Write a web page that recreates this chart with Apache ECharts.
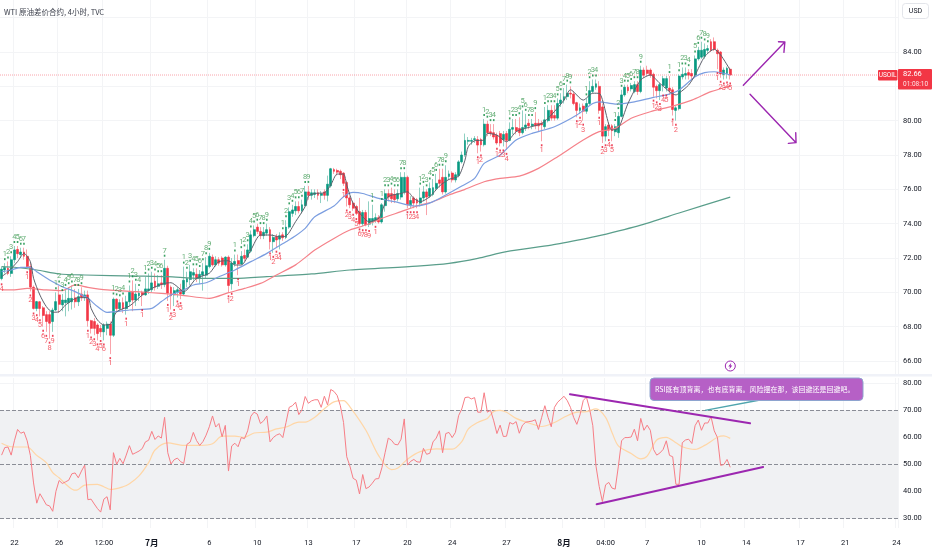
<!DOCTYPE html>
<html><head><meta charset="utf-8">
<style>html,body{margin:0;padding:0;background:#fff}#c{width:932px;height:550px}</style>
<script src="https://cdn.jsdelivr.net/npm/echarts@6/dist/echarts.min.js"></script>
</head><body><div id="c"></div>
<script>
const SLOTS = 281;
const tickBars = [4,18,32,47,65,80,96,111,127,141,158,176,189,202,219,233,250,264,280];
const tickLabels = ['22','26','12:00','7月','6','10','13','17','20','24','27','8月','04:00','7','10','14','17','21','24'];
const priceTicks = [66,68,70,72,74,76,78,80,82,84,86];
const priceLabels = [66,68,70,72,74,76,78,80,84];
const rsiTicks = [30,40,50,60,70,80];
const rsiLevels = [70,50,30];
const lastPrice = 82.66;
// open, close, low, high
const candles = [
[70.8,71.35,70.7,71.5],[71.3,71.45,71.1,71.7],[71.4,71.1,71.0,71.8],[71.1,71.9,70.9,72.1],[71.9,72.47,71.7,72.7],
[72.5,72.25,72.0,72.7],[72.2,72.35,72.0,72.6],[72.35,72.1,71.9,72.6],[72.1,71.5,71.4,72.5],[71.5,70.3,70.05,71.7],
[70.3,69.06,69.0,70.4],[69.06,69.46,68.9,69.5],[69.45,69.06,68.6,69.5],[69.1,68.65,68.0,69.2],[68.7,68.3,67.7,68.9],
[68.7,68.2,67.3,68.9],[68.3,68.97,67.7,69.1],[68.97,69.46,68.9,70.0],[69.85,69.3,68.8,70.4],[69.27,69.55,68.9,69.9],
[69.4,69.55,68.6,70.2],[69.4,69.65,68.9,70.3],[69.45,69.65,69,70.4],[69.68,69.45,69.1,70.2],[69.45,69.75,69.2,70.2],
[69.9,69.7,69.5,70.3],[69.7,69.85,69.5,70.1],[69.85,68.35,68,70.1],[68.35,67.9,67.6,68.4],[68.3,67.9,67.5,68.5],
[68.1,67.6,67.2,68.2],[67.9,67.7,67.4,68.1],[67.7,68.1,67.2,68.2],[67.9,68.15,67.5,68.3],[68.15,67.5,66.4,68.3],
[67.5,69.6,67.4,69.7],[69.6,69.05,68.9,69.65],[69.05,69.4,68.9,69.6],[69.4,69.05,68.8,69.7],[69.05,69.45,68.7,69.8],
[69.45,70,69.2,70.4],[70,69.55,68.9,70.7],[69.55,69.9,69.2,70.5],[69.8,69.95,69.5,70.2],[70,69.85,69.2,70.1],
[69.85,70.2,69.8,70.9],[70.1,70.2,69.9,71.1],[70.15,70.55,70,71.2],[70.65,70.3,70.1,71.1],[70.35,70.5,70.2,71],
[70.55,70.45,70.2,71],[70.45,71.4,70.3,71.9],[71.4,69.95,69.5,71.55],[70.3,69.8,69.0,70.4],[69.85,70.1,69.2,70.3],
[70,70.15,69.7,70.3],[70.15,69.9,69.6,70.5],[69.9,70.7,69.8,71.5],[70.6,70.8,70.3,71.2],[70.75,71.2,70.4,71.6],
[71,71.15,70.7,71.4],[71.05,70.8,70.6,71.4],[70.8,71.05,70.5,71.3],[71,71.2,70.1,71.7],[71,71.55,70.8,72.05],
[71.5,72.1,71.4,72.3],[72.05,71.6,71.5,72.2],[71.6,71.9,71.5,72.1],[71.9,71.7,71.55,72.05],[72,71.6,71.5,72.1],
[71.6,72.05,71.5,72.1],[72.05,70.4,70,72.15],[70.5,71.7,70.15,72],[71.65,71.8,71.5,72.2],[71.85,71.65,71,72.2],
[71.65,72.1,71.6,72.4],[72.15,71.98,71.8,72.5],[72.05,72.47,72,72.8],[72.4,73.35,72.3,73.6],[73.3,73.65,73.2,73.9],
[73.8,73.55,73.4,74],[73.55,73.3,73.1,73.8],[73.3,73.5,73.1,73.8],[73.45,73.65,73.3,74],[73.65,72.95,72.5,73.8],
[72.95,73.2,72.3,73.4],[73.25,73.05,72.6,73.4],[73.1,73.3,72.5,73.5],[73.35,73.18,73,73.5],[73.2,73.8,73.1,74.2],
[73.8,74.7,73.7,74.95],[74.6,74.8,74.4,75.1],[74.75,75,74.5,75.3],[75,74.75,74.6,75.3],[74.75,75.1,74.6,75.4],
[75.05,75.85,75,76.2],[75.85,75.65,75.4,76.2],[75.65,75.8,75.4,76],[75.7,75.8,75.5,76],[75.8,75.65,75.4,76],
[75.65,75.75,75.2,75.9],[75.85,75.65,75.4,76],[75.65,76.3,75.3,76.8],[76.2,77.2,76.1,77.25],[77.15,77.05,76.9,77.25],
[77.1,77,76.8,77.2],[77.05,76.85,76.6,77.15],[76.95,76.35,76.2,77],[76.4,75.5,75,76.5],[75.5,75.1,74.9,75.6],
[75.2,74.9,74.75,75.3],[75,74.6,74.5,75.1],[74.7,74,73.9,75.5],[74,74.65,73.85,74.8],[74.65,73.95,73.85,74.8],
[73.97,74.3,73.8,75.3],[74.1,74.3,73.9,75.1],[74.2,74.35,74.05,74.6],[74.35,74.1,74,74.5],[74.1,75.1,74,75.2],
[75.05,75.75,74.7,76],[75.75,75.55,75.3,76],[75.75,75.45,75.2,76.1],[75.7,75.4,75.2,76],[75.45,75.75,75.3,76],
[75.55,76.7,75.4,77],[75.85,76.7,75.7,77],[76.7,75.1,74.9,76.8],[75.1,75.35,74.9,75.6],[75.5,75.2,74.9,75.6],
[75.4,75.2,74.9,75.5],[75.2,75.5,75,76.1],[75.5,75.85,75.3,76.2],[75.85,75.55,74.5,76],[75.6,76.05,75.5,76.4],
[75.7,76.1,75.6,76.6],[76.05,76.35,75.9,76.9],[76.55,76.35,76.1,77.2],[76.7,75.85,75.7,77.2],[75.85,76.7,75.75,77.4],
[76.75,76.9,76.6,77.1],[76.95,76.55,76.4,77.05],[76.55,76.85,76.4,77],[76.8,77.6,76.7,77.7],[77.6,78,77.5,78.2],
[78,78.85,77.9,79.25],[78.8,78.85,78.6,79.05],[78.8,78.85,78.6,79],[78.9,78.95,78.7,79.1],[78.9,78.58,78.1,79.1],
[78.9,78.6,78.2,79],[78.6,79.8,78.5,80.1],[79.8,79.3,79.1,80],[79.35,79.25,79.1,79.8],[79.3,79.05,78.9,79.8],
[79.15,78.7,78.6,79.3],[79.25,78.7,78.5,79.4],[78.9,79.2,78.5,79.4],[79.25,78.85,78.3,79.4],[78.85,79.5,78.8,79.9],
[79.5,79.6,79.2,80.1],[79.6,79.4,79.2,80.1],[79.55,79.3,79.1,80.2],[79.3,79.6,79.2,80.6],[79.6,79.75,79.4,80.4],
[79.85,79.7,79.5,80.1],[79.7,79.8,79.5,80.1],[79.85,79.7,79.5,80.5],[79.85,79.7,79.4,80.1],[79.85,79.75,78.8,80],
[79.65,80.05,79.5,80.8],[80,80.6,79.9,80.9],[80.6,80.15,80,80.9],[80.3,80.15,80,80.9],[80.15,81,80.05,81.3],
[81,81.2,80.8,81.6],[81.2,81.4,81,81.9],[81.4,81.6,81.2,82.1],[81.6,81.55,81.3,82],[81.55,81,80.9,81.7],
[81.05,80.6,80.2,81.1],[80.6,80.75,80.4,81],[80.85,80.55,80,81],[80.55,81,80.4,81.3],[81,81.75,80.9,82.3],
[81.7,82,81.6,82.4],[81.95,82.15,81.8,82.4],[82,80.6,80.4,82.3],[80.8,79.1,78.7,81],[79.1,79.65,78.8,79.8],
[79.75,79.45,79.1,79.9],[79.7,79.42,78.8,79.8],[79.35,79.65,79.1,79.8],[79.3,80.25,79,80.5],[80.25,81.5,80.2,81.8],
[81.5,81.95,81.4,82.1],[81.95,81.75,81.6,82.1],[81.85,82.05,81.7,82.2],[81.7,82.1,81.6,82.3],[82.1,81.7,81.5,82.3],
[81.7,82.95,81.6,83.2],[82.95,82.65,82.5,83.1],[82.95,82.75,82.6,83.2],[82.95,82.65,82.5,83.05],[82.7,81.95,81.4,82.8],
[82,81.75,81.3,82.1],[81.75,82.1,81.2,82.2],[82.05,82.45,81.7,82.6],[81.9,82.45,81.7,82.6],[81.9,81.75,81.5,82.6],
[81.8,80.65,80.3,81.95],[80.6,80.75,80,80.85],[80.7,82.6,80.6,82.7],[82.55,82.7,82.4,83.1],[82.65,82.75,82.4,83.1],
[82.8,82.65,82.4,83.0],[82.75,82.6,82.4,83],[82.65,83.6,82.55,83.8],[83.6,84.1,83.5,84.3],[83.7,84.1,83.6,84.6],
[83.75,84.15,83.6,84.5],[84.1,84.2,83.9,84.4],[84.6,84.1,84,84.75],[84.6,84.15,84.05,84.85],[84.1,83.9,83,84.2],
[84,82.72,82.5,84.05],[82.7,82.95,82.4,83.1],[82.75,83.05,82.45,83.15],[83,82.66,82.4,83.1]
];
// TD-count digits above bars: [bar, digit]
const tdUp = [[1,1],[2,2],[3,3],[4,4],[5,5],[6,6],[7,7],[17,1],[18,2],[19,3],[20,4],[21,5],[22,6],[23,7],[24,8],[25,9],
[35,1],[36,2],[37,3],[38,4],[40,1],[41,2],[42,3],[43,4],[45,1],[46,2],[47,3],[48,4],[49,5],[50,6],[51,7],
[57,1],[58,2],[59,3],[60,4],[61,5],[62,6],[63,7],[64,8],[65,9],[73,1],[75,1],[76,2],[77,3],[78,4],[79,5],[80,6],[81,7],[82,8],[83,9],
[88,1],[89,2],[90,3],[91,4],[92,5],[93,6],[94,7],[95,8],[96,9],[116,1],[119,1],[120,2],[121,3],[122,4],[123,5],[124,6],[125,7],[126,8],
[131,1],[132,2],[133,3],[134,4],[135,5],[136,6],[137,7],[138,8],[139,9],[151,1],[152,2],[153,3],[154,4],
[159,1],[160,2],[161,3],[162,4],[163,5],[164,6],[165,7],[166,8],[167,9],[170,1],[171,2],[172,3],[173,4],[174,5],[175,6],[176,7],[177,8],[178,9],
[183,1],[184,2],[185,3],[186,4],[192,1],[193,2],[194,3],[195,4],[196,5],[197,6],[198,7],[199,8],[200,9],[209,1],
[212,1],[213,2],[214,3],[215,4],[217,5],[218,6],[219,7],[220,8],[221,9]];
// TD-count digits below bars: [bar, digit]
const tdDown = [[0,4],[8,1],[9,2],[10,3],[11,4],[12,5],[13,6],[14,7],[15,8],[16,9],[27,1],[28,2],[29,3],[30,4],[31,5],[32,6],[34,1],[39,1],[44,1],
[52,1],[53,2],[54,3],[55,4],[56,5],[71,1],[72,2],[74,1],[84,1],[85,2],[86,3],[87,4],[107,1],[108,2],[109,3],[110,4],[111,5],[112,6],[113,7],[114,8],[115,9],[117,1],
[127,1],[128,2],[129,3],[130,4],[149,1],[150,2],[155,1],[156,2],[157,3],[158,4],[169,1],[180,1],[181,2],[182,3],[187,1],[188,2],[189,3],[190,4],[191,5],
[204,1],[205,2],[206,3],[207,4],[208,5],[210,1],[211,2],[224,1],[225,2],[226,3],[227,4],[228,5]];
const maBlack = [[0,70.91],[2,71.2],[5,71.79],[7,72.27],[9,71.79],[10,70.82],[12,69.84],[14,69.17],[16,68.84],[18,68.87],[20,69.26],[24,69.69],[27,69.69],[28,69.07],[30,68.39],[32,68.1],[34,68.14],[36,68.87],[40,69.2],[44,69.84],[47,70.23],[51,70.52],[53,70.56],[55,70.33],[57,70.04],[58,70.14],[61,70.82],[65,71.11],[68,71.79],[71,71.84],[73,71.59],[75,71.59],[78,72.47],[81,73.34],[84,73.34],[87,73.24],[89,73.28],[92,74.12],[95,75.0],[96,75.6],[98,75.76],[101,75.8],[103,76.25],[105,76.89],[107,76.89],[108,76.25],[110,75.18],[113,74.4],[115,74.11],[118,74.31],[119,74.7],[121,75.57],[125,75.76],[127,75.86],[129,75.47],[131,75.28],[134,75.57],[137,76.19],[140,76.58],[143,76.77],[145,77.7],[146,78.48],[148,78.83],[151,78.87],[152,79.26],[155,79.16],[158,78.77],[161,79.36],[165,79.61],[169,79.84],[172,80.33],[176,81.2],[178,81.8],[182,81.2],[185,81.6],[187,81.59],[191,79.46],[193,79.55],[196,81.0],[200,82.37],[203,82.66],[206,82.17],[211,81.5],[212,81.6],[215,82.08],[217,82.66],[220,83.73],[223,84.16],[225,83.83],[228,82.95]];
const maBlue = [[0,71.2],[3,71.3],[6,71.46],[9,71.46],[11,71.2],[15,70.72],[19,70.33],[23,70.04],[27,69.65],[30,69.17],[33,68.83],[40,68.97],[47,69.07],[50,69.46],[53,69.84],[57,70.14],[60,70.43],[64,70.56],[68,70.91],[73,71.3],[78,71.79],[83,72.27],[89,72.95],[92,73.3],[95,73.73],[98,74.4],[104,75.03],[107,75.57],[110,75.82],[113,75.76],[118,75.47],[123,75.28],[129,75.03],[133,75.14],[137,75.47],[144,76.19],[148,76.64],[151,77.51],[156,78.0],[161,78.87],[166,79.26],[173,79.65],[180,80.33],[185,81.0],[187,81.1],[192,80.97],[198,81.1],[204,81.36],[208,81.5],[212,81.79],[217,82.56],[220,82.8],[223,82.85],[228,82.66]];
const maRed = [[0,70.14],[4,70.14],[8,70.23],[14,70.14],[19,70.1],[23,70.43],[27,70.29],[33,70.14],[42,70.04],[50,69.94],[56,69.84],[65,69.65],[71,69.98],[76,70.23],[81,70.52],[86,71.01],[92,71.6],[98,72.46],[104,73.14],[109,73.63],[114,73.92],[119,74.31],[125,74.7],[130,75.03],[135,75.28],[140,75.67],[145,76.0],[151,76.44],[156,76.64],[162,76.77],[168,77.22],[174,77.9],[182,78.87],[187,79.36],[192,79.55],[197,80.14],[203,80.52],[210,80.85],[216,81.2],[222,81.69],[228,82.02]];
const maGreen = [[0,71.5],[4,71.46],[11,71.3],[18,71.07],[26,71.01],[42,70.95],[52,70.91],[62,70.81],[73,70.81],[83,70.91],[97,71.07],[109,71.3],[130,71.53],[140,71.69],[149,71.98],[158,72.37],[172,72.75],[182,73.1],[187,73.3],[200,73.92],[212,74.62],[228,75.55]];
const rsiValues = [53.4,56.2,56.4,53.4,58.7,62.9,61.5,62.0,58.7,53.3,43.1,35.6,39.1,37.1,35.0,34.6,32.6,40.0,44.0,42.9,43.5,44.1,46.5,46.8,45.0,47.5,49.7,36.9,37.1,35.3,33.6,32.3,37.1,38.0,33.1,54.3,50.0,52.2,50.2,53.4,56.9,53.7,54.3,54.9,55.8,58.3,58.9,62.2,59.2,60.5,59.7,67.4,54.3,50.1,51.7,52.3,51.0,50.3,57.4,58.2,61.8,58.8,57.0,58.4,60.8,63.9,67.9,63.8,65.1,60.2,64.4,47.5,56.8,57.8,56.5,59.9,59.5,62.4,67.8,69.3,68.6,65.1,66.1,67.9,58.3,59.9,60.8,61.3,59.9,65.5,71.1,71.7,73.0,68.4,70.2,75.1,72.6,73.5,73.9,73.9,71.1,75.2,72.0,77.7,77.0,75.5,71.7,65.5,52.8,49.3,44.8,44.1,39.0,46.2,41.0,41.6,43.0,44.6,44.7,48.7,54.3,59.7,58.9,57.4,57.2,59.3,66.8,49.7,51.1,51.8,50.9,50.8,55.9,53.7,54.1,58.3,59.7,62.4,54.3,61.4,61.8,59.9,61.8,68.0,70.5,74.7,74.9,
74.2,74.7,69.3,69.3,76.5,69.3,70,66.1,61.4,64.5,60.3,60.4,65.5,64.9,65.8,61.5,64.5,65.6,65.8,66,66.5,62.9,67.4,71.7,67.4,63.9,71.1,73,74.1,75.2,73.6,71.1,67.4,64.8,68.3,73.6,74.9,70.5,64.3,49.3,41.8,36.2,42.4,43.3,41.2,40.8,49.3,58.7,59.9,59.9,60.1,63,58.7,67,62.6,64.5,62.6,55.5,53.4,54.2,55.5,58.7,53.3,52.8,42.6,42.6,58,59,59.3,57.7,64.3,66.4,62.6,65.3,65.3,67.6,62.4,59.9,49.6,49.9,51.8,48.9];
const rsiMa = [[0,57.8],[3,56.5],[6,56.4],[8,56.4],[11,53.3],[14,50.6],[16,46.9],[18,45.0],[21,41.7],[23,40.4],[24,40.7],[26,42.3],[30,42.6],[32,41.7],[34,40.7],[38,41.7],[40,42.8],[43,45.7],[46,50.6],[48,55.3],[52,57.9],[57,57.0],[62,57.0],[66,57.6],[69,60.4],[73,60.4],[76,60.0],[79,61.6],[83,61.9],[86,63.1],[89,63.8],[93,65.6],[95,65.6],[98,67.4],[101,70.6],[104,73.1],[107,73.6],[109,71.3],[114,62.6],[118,53.2],[122,48.0],[124,48.6],[127,51.9],[131,54.7],[136,55.7],[141,55.6],[144,58.4],[146,63],[149,65.5],[152,67],[154,69.6],[156,70],[158,69.3],[161,67],[165,65.3],[169,64],[173,65.5],[176,67.4],[180,69.3],[183,69.5],[186,70.5],[189,67.4],[191,61.8],[193,56.8],[197,54],[200,52],[202,53],[205,59],[208,60],[211,58],[213,56.5],[217,55.5],[220,57],[224,60],[226,60.5],[228,59.6]];
// drawing annotations in (bar, price) and (bar, RSI)
const arrowUp = [[232.1,82.06],[245.1,84.58],[243.1,84.6],[245.1,84.58],[244.8,83.98]];
const arrowDown = [[234.2,81.54],[248.6,78.72],[246.2,78.68],[248.6,78.72],[248.5,79.3]];
const rsiUpper = [[177.85,75.93],[234.2,65.19]];
const rsiLower = [[186.2,35.19],[238.3,49.0]];
const noteText = 'RSI既有顶背离，也有底背离。风险摆在那，该回避还是回避吧。';
const titleText = 'WTI 原油差价合约, 4小时, TVC';

const UP='#089981', DOWN='#f23645', NARROW='Roboto,sans-serif', CJK='"Noto Sans CJK SC",sans-serif';
const categories = Array.from({length:SLOTS},(_,i)=>{const k=tickBars.indexOf(i);return k<0?'':tickLabels[k];});
const isTick=(i)=>tickBars.indexOf(i)>=0;
const gridLine={show:true,interval:isTick,lineStyle:{color:'#f3f4f6',width:1}};
const catAxis=(g,lab)=>({type:'category',gridIndex:g,data:categories,boundaryGap:true,axisLine:{show:false},
  axisTick:{show:false,alignWithLabel:true,interval:isTick},splitLine:gridLine,
  axisLabel:lab?{show:true,interval:isTick,color:'#131722',fontSize:7.5,fontFamily:NARROW,margin:11,hideOverlap:false,
     formatter:(v)=>/月/.test(v)?'{b|'+v+'}':v,rich:{b:{fontWeight:'bold',fontSize:8.5,fontFamily:CJK,color:'#131722'}}}:{show:false}});
const hiddenX=(g)=>({type:'value',gridIndex:g,min:-0.5,max:SLOTS-0.5,show:false,splitLine:{show:false}});
const yAx=(g,min,max,ticks,labels)=>({type:'value',gridIndex:g,position:'right',min,max,scale:true,
  axisLine:{show:false},axisTick:{show:false,customValues:ticks},splitLine:{show:true,lineStyle:{color:'#f3f4f6',width:1}},
  axisLabel:{show:true,customValues:labels,showMinLabel:true,showMaxLabel:true,color:'#131722',fontSize:7.5,fontFamily:NARROW,margin:5,padding:[3,0,0,0],formatter:(v)=>v.toFixed(2)}});
const maLine=(data,color,z,w)=>({type:'line',xAxisIndex:0,yAxisIndex:0,data,showSymbol:false,symbol:'none',smooth:0.25,z,silent:true,
  lineStyle:{color,width:w||1},itemStyle:{color}});
const tdSeries=(pairs,color,above)=>({type:'scatter',xAxisIndex:0,yAxisIndex:0,z:8,silent:true,symbol:'rect',symbolSize:[1.6,2],
  symbolOffset:[0,above?-4:4],itemStyle:{color:above?'#0a8a3c':'#e8112d'},
  data:pairs.map(([b,d])=>[b,above?candles[b][3]:candles[b][2],d]),
  label:{show:true,position:above?'top':'bottom',distance:0,color,fontSize:7.5,fontFamily:NARROW,formatter:(p)=>String(p.data[2])}});
const overlay=(data,color,w,xi,yi)=>({type:'line',xAxisIndex:xi,yAxisIndex:yi,data,symbol:'none',z:12,silent:true,lineStyle:{color,width:w,cap:'round',join:'round'}});
const bodies=candles.map(([o,c])=>[o,c,Math.min(o,c),Math.max(o,c)]);

const option={animation:false,backgroundColor:'#fff',
 grid:[{left:0,top:0,width:898,height:374,containLabel:false},{left:0,top:378,width:898,height:150,containLabel:false}],
 xAxis:[catAxis(0,false),catAxis(1,true),hiddenX(0),hiddenX(1)],
 yAxis:[yAx(0,65.243,87.03,priceTicks,priceLabels),yAx(1,26.41,81.96,rsiTicks,rsiTicks)],
 series:[
  {type:'line',xAxisIndex:2,yAxisIndex:0,data:[[-0.5,lastPrice],[SLOTS-0.5,lastPrice]],symbol:'none',z:3,silent:true,lineStyle:{color:'#f23645',width:1,type:'dotted',opacity:.45}},
  {type:'candlestick',xAxisIndex:0,yAxisIndex:0,data:candles,barWidth:1,z:4,silent:true,itemStyle:{color:'#8fd0c2',color0:'#f9a3aa',borderColor:'#8fd0c2',borderColor0:'#f9a3aa',borderWidth:1}},
  {type:'candlestick',xAxisIndex:0,yAxisIndex:0,data:bodies,barWidth:2.4,z:5,silent:true,itemStyle:{color:UP,color0:DOWN,borderColor:UP,borderColor0:DOWN,borderWidth:0.6}},
  maLine(maGreen,'#5a9e8b',6,1.2),maLine(maRed,'#f5828a',6,1.2),maLine(maBlue,'#7c9ee0',6,1.2),maLine(maBlack,'#5d606b',7,1),
  tdSeries(tdUp,'#3d9a52',true),tdSeries(tdDown,'#f23645',false),
  overlay(arrowUp,'#9c27b0',1.4,2,0),overlay(arrowDown,'#9c27b0',1.4,2,0),
  {type:'line',xAxisIndex:1,yAxisIndex:1,data:rsiValues,symbol:'none',z:6,silent:true,lineStyle:{color:'#f77e86',width:1},
    markArea:{silent:true,itemStyle:{color:'#f0f1f3'},data:[[{yAxis:70},{yAxis:30}]],z:1},
    markLine:{silent:true,symbol:'none',label:{show:false},lineStyle:{color:'#8a8d96',type:'dashed',width:1},data:rsiLevels.map(v=>({yAxis:v}))}},
  {type:'line',xAxisIndex:1,yAxisIndex:1,data:rsiMa,symbol:'none',smooth:0.3,z:5,silent:true,lineStyle:{color:'#ffd6a6',width:1.2}},
  overlay(rsiUpper,'#9c27b0',2,3,1),overlay(rsiLower,'#9c27b0',2,3,1)
 ],
 graphic:[
  {type:'rect',shape:{x:0,y:374,width:932,height:2.5},style:{fill:'#f0f2f8'},z:20},
  {type:'text',x:4,y:12,style:{text:titleText,font:'7.5px '+CJK,fill:'#3a3e4a',textVerticalAlign:'middle'},z:20},
  {type:'rect',shape:{x:902.5,y:3.5,width:26,height:15,r:3},style:{fill:'#fff',stroke:'#e3e5ea',lineWidth:1},z:20},
  {type:'text',x:915.5,y:11,style:{text:'USD',font:'7px '+NARROW,fill:'#131722',textAlign:'center',textVerticalAlign:'middle'},z:21},
  {type:'rect',shape:{x:878,y:70,width:19.5,height:10.5,r:1},style:{fill:'#f23645'},z:20},
  {type:'text',x:887.7,y:75.5,style:{text:'USOIL',font:'6.5px '+NARROW,fill:'#fff',textAlign:'center',textVerticalAlign:'middle'},z:21},
  {type:'rect',shape:{x:898,y:69,width:34,height:20.5,r:1},style:{fill:'#f23645'},z:20},
  {type:'text',x:903,y:74.5,style:{text:lastPrice.toFixed(2),font:'7.5px '+NARROW,fill:'#fff',textVerticalAlign:'middle'},z:21},
  {type:'text',x:903,y:84,style:{text:'01:08:10',font:'6.5px '+NARROW,fill:'#fde3e5',textVerticalAlign:'middle'},z:21},
  {type:'line',shape:{x1:705,y1:410.3,x2:760,y2:400},style:{stroke:'#4fa5ad',lineWidth:1.3},z:18},
  {type:'rect',shape:{x:650,y:378,width:213,height:22.5,r:4},style:{fill:'#b660c6',stroke:'#8ea4cf',lineWidth:1},z:20},
  {type:'text',x:655,y:389.3,style:{text:noteText,font:'7px '+CJK,fill:'#fff',textVerticalAlign:'middle'},z:21},
  {type:'circle',shape:{cx:730.3,cy:366,r:5},style:{fill:'#fff',stroke:'#9c27b0',lineWidth:1},z:20},
  {type:'polygon',shape:{points:[[731.3,362.7],[728.3,366.6],[730,366.6],[729.3,369.3],[732.3,365.4],[730.6,365.4]]},style:{fill:'#9c27b0'},z:21}
 ]
};
const chart=echarts.init(document.getElementById('c'),null,{renderer:'canvas',width:932,height:550});
chart.setOption(option);
</script></body></html>
